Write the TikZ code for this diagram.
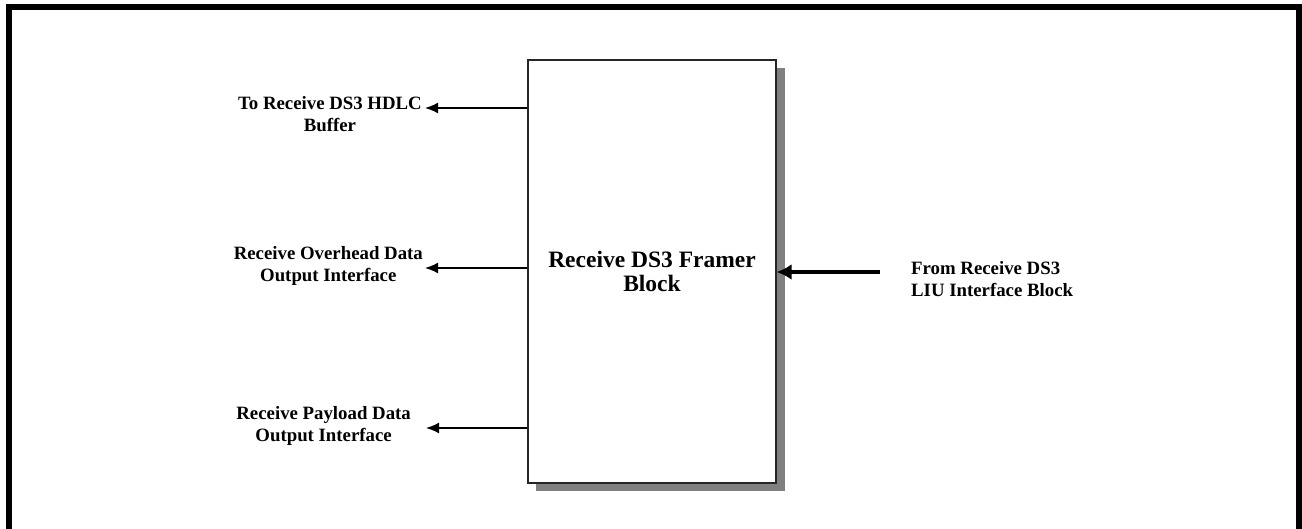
\documentclass[tikz,border=0pt]{standalone}
\usepackage{fontspec}
\setmainfont{Liberation Serif}
\usetikzlibrary{arrows.meta,positioning}

\begin{document}
\begin{tikzpicture}[x=1pt,y=-1pt, every node/.style={font=\bfseries\fontsize{18.8}{22}\selectfont}, lbl/.style={align=center,inner sep=1pt}, blockbox/.style={draw=black!85,line width=1.3pt,fill=white,minimum width=248pt,minimum height=423pt,inner sep=0pt,align=center,font=\bfseries\fontsize{23.5}{24}\selectfont}, arr/.style={-{Latex[length=13pt,width=11pt]},line width=1.8pt}, fatarr/.style={-{Latex[length=15pt,width=16pt]},line width=4.5pt}]
\useasboundingbox (0,0) rectangle (1302,529);
\draw[line width=6pt] (9,560) -- (9,7) -- (1299,7) -- (1299,560);
% framer block with its shadow
\fill[black!50] (536,68) rectangle (785,491);
\node[blockbox] (framer) at (652,271.5) {Receive DS3 Framer\\Block};
% outputs to the left
\node[lbl,anchor=east] (hdlc) at (423,114) {To Receive DS3 HDLC\\Buffer};
\node[lbl,anchor=east] (ohd) at (424,266) {Receive Overhead Data\\Output Interface};
\node[lbl,anchor=east] (pld) at (412,426) {Receive Payload Data\\Output Interface};
\coordinate (hdlcin) at (425,108);
\coordinate (ohdin) at (425,268);
\coordinate (pldin) at (426,428);
\draw[arr] (framer.west |- hdlcin) -- (hdlcin);
\draw[arr] (framer.west |- ohdin) -- (ohdin);
\draw[arr] (framer.west |- pldin) -- (pldin);
% input from the LIU
\node[lbl,align=left,anchor=west] (liu) at (910,279) {From Receive DS3\\LIU Interface Block};
\coordinate (liuout) at (880,272);
\draw[fatarr] (liuout) -- (framer.east |- liuout);
\end{tikzpicture}
\end{document}
